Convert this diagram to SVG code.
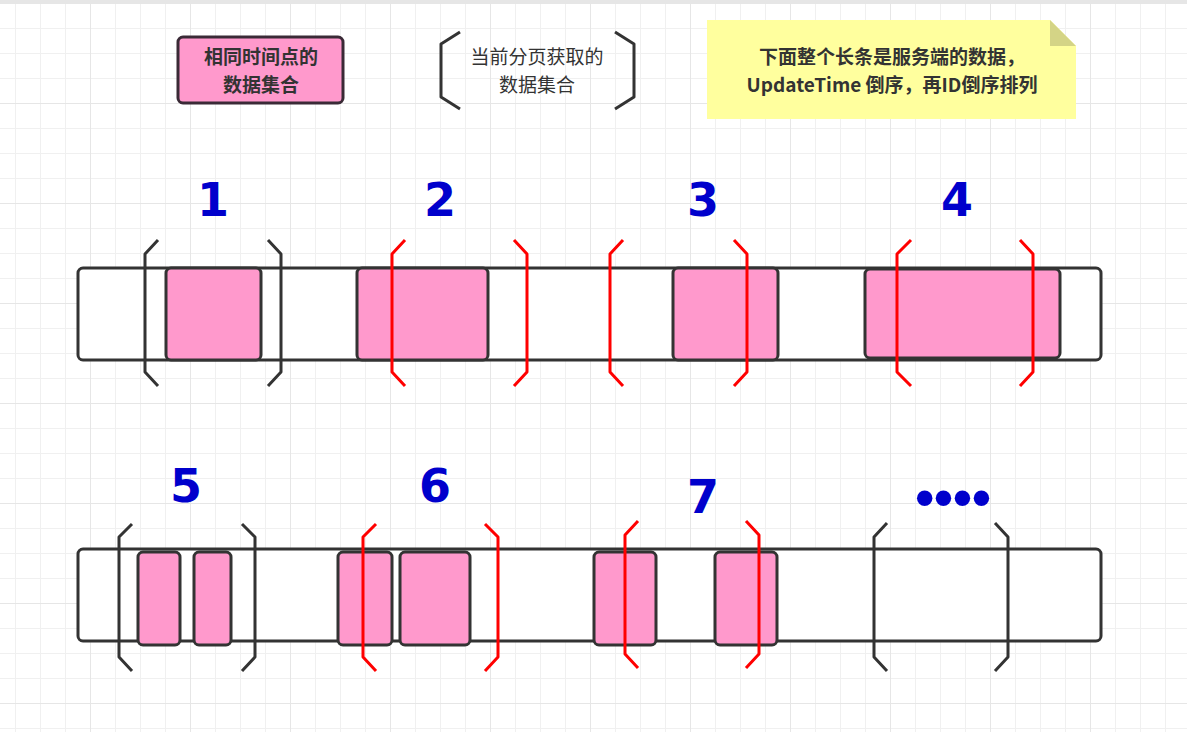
<svg xmlns="http://www.w3.org/2000/svg" width="1187" height="732" viewBox="0 0 1187 732">
<defs>
<pattern id="minor" x="15" y="3" width="25" height="25" patternUnits="userSpaceOnUse">
<rect x="0" y="0" width="1" height="25" fill="#f0f0f0"/>
<rect x="0" y="0" width="25" height="1" fill="#f0f0f0"/>
</pattern>
<pattern id="major" x="90" y="3" width="100" height="100" patternUnits="userSpaceOnUse">
<rect x="0" y="0" width="1" height="100" fill="#e6e6e6"/>
<rect x="0" y="0" width="100" height="1" fill="#e6e6e6"/>
</pattern>
</defs>
<style>
.bar{fill:#ffffff;stroke:#333333;stroke-width:3}
.blk{fill:#ff99cc;stroke:#333333;stroke-width:3}
.bk{fill:none;stroke:#333333;stroke-width:3;stroke-linejoin:round}
.br{fill:none;stroke:#ff0000;stroke-width:3;stroke-linejoin:round}
.num{font-family:"DejaVu Sans",sans-serif;font-weight:bold;font-size:46px;fill:#0000cc;text-anchor:middle}
.cjk{font-family:"Noto Sans CJK SC",sans-serif;font-size:19px;text-anchor:middle;fill:#333333}
.b{font-weight:bold}
</style>
<rect width="1187" height="732" fill="#ffffff"/>
<rect width="1187" height="732" fill="url(#minor)"/>
<rect width="1187" height="732" fill="url(#major)"/>
<rect x="0" y="0" width="1187" height="4" fill="#e6e6e6"/>

<g id="legend-same-time">
<rect x="178" y="37" width="165" height="66" rx="5" fill="#ff99cc" stroke="#3a2a36" stroke-width="3"/>
<text class="cjk b" x="261" y="64">相同时间点的</text>
<text class="cjk b" x="261" y="92">数据集合</text>
</g>

<g id="legend-page">
<path class="bk" d="M460 32 L441 44 L441 97 L460 109"/>
<path class="bk" d="M615 32 L634 44 L634 97 L615 109"/>
<text class="cjk" x="537" y="64">当前分页获取的</text>
<text class="cjk" x="537" y="92">数据集合</text>
</g>

<g id="note">
<path d="M707 20 H1050 L1076 46 V119 H707 Z" fill="#ffff9e"/>
<path d="M1050 20 L1076 46 H1050 Z" fill="#d4d486"/>
<text class="cjk b" x="892" y="64" fill="#222222">下面整个长条是服务端的数据，</text>
<text class="cjk b" x="892" y="92" fill="#222222">UpdateTime 倒序，再ID倒序排列</text>
</g>

<g id="row1">
<rect class="bar" x="78" y="268" width="1023" height="92" rx="5"/>
<rect class="blk" x="166" y="268" width="95" height="92" rx="5"/>
<rect class="blk" x="357" y="268" width="131" height="92" rx="5"/>
<rect class="blk" x="673" y="268" width="105" height="92" rx="5"/>
<rect class="blk" x="865" y="269" width="195" height="89" rx="5"/>
</g>

<g id="row2">
<rect class="bar" x="78" y="549" width="1023" height="92" rx="5"/>
<rect class="blk" x="138" y="552" width="42" height="93" rx="5"/>
<rect class="blk" x="194" y="552" width="37" height="93" rx="5"/>
<rect class="blk" x="338" y="552" width="54" height="93" rx="5"/>
<rect class="blk" x="400" y="552" width="70" height="93" rx="5"/>
<rect class="blk" x="594" y="552" width="62" height="93" rx="5"/>
<rect class="blk" x="715" y="552" width="62" height="93" rx="5"/>
</g>

<g id="page1">
<path class="bk" d="M158 240 L145 254 L145 372 L158 386"/>
<path class="bk" d="M268 240 L281 254 L281 372 L268 386"/>
<text class="num" x="213" y="216">1</text>
</g>
<g id="page2">
<path class="br" d="M405 240 L392 254 L392 372 L405 386"/>
<path class="br" d="M514 240 L527 254 L527 372 L514 386"/>
<text class="num" x="440" y="216">2</text>
</g>
<g id="page3">
<path class="br" d="M623 240 L610 254 L610 372 L623 386"/>
<path class="br" d="M734 240 L747 254 L747 372 L734 386"/>
<text class="num" x="703" y="216">3</text>
</g>
<g id="page4">
<path class="br" d="M911 240 L897 254 L897 372 L911 386"/>
<path class="br" d="M1020 240 L1033 254 L1033 372 L1020 386"/>
<text class="num" x="957" y="216">4</text>
</g>

<g id="page5">
<path class="bk" d="M132 524 L119 537 L119 657 L132 671"/>
<path class="bk" d="M242 524 L255 537 L255 657 L242 671"/>
<text class="num" x="186" y="502">5</text>
</g>
<g id="page6">
<path class="br" d="M376 524 L363 537 L363 657 L376 671"/>
<path class="br" d="M485 524 L498 537 L498 657 L485 671"/>
<text class="num" x="435" y="502">6</text>
</g>
<g id="page7">
<path class="br" d="M638 521 L625 535 L625 654 L638 668"/>
<path class="br" d="M746 521 L759 535 L759 654 L746 668"/>
<text class="num" x="703" y="513">7</text>
</g>
<g id="page-more">
<path class="bk" d="M887 523 L874 537 L874 657 L887 671"/>
<path class="bk" d="M995 523 L1008 537 L1008 657 L995 671"/>
<text class="num" x="953" y="516" style="font-family:'Liberation Sans',sans-serif;font-size:54px">••••</text>
</g>
</svg>
